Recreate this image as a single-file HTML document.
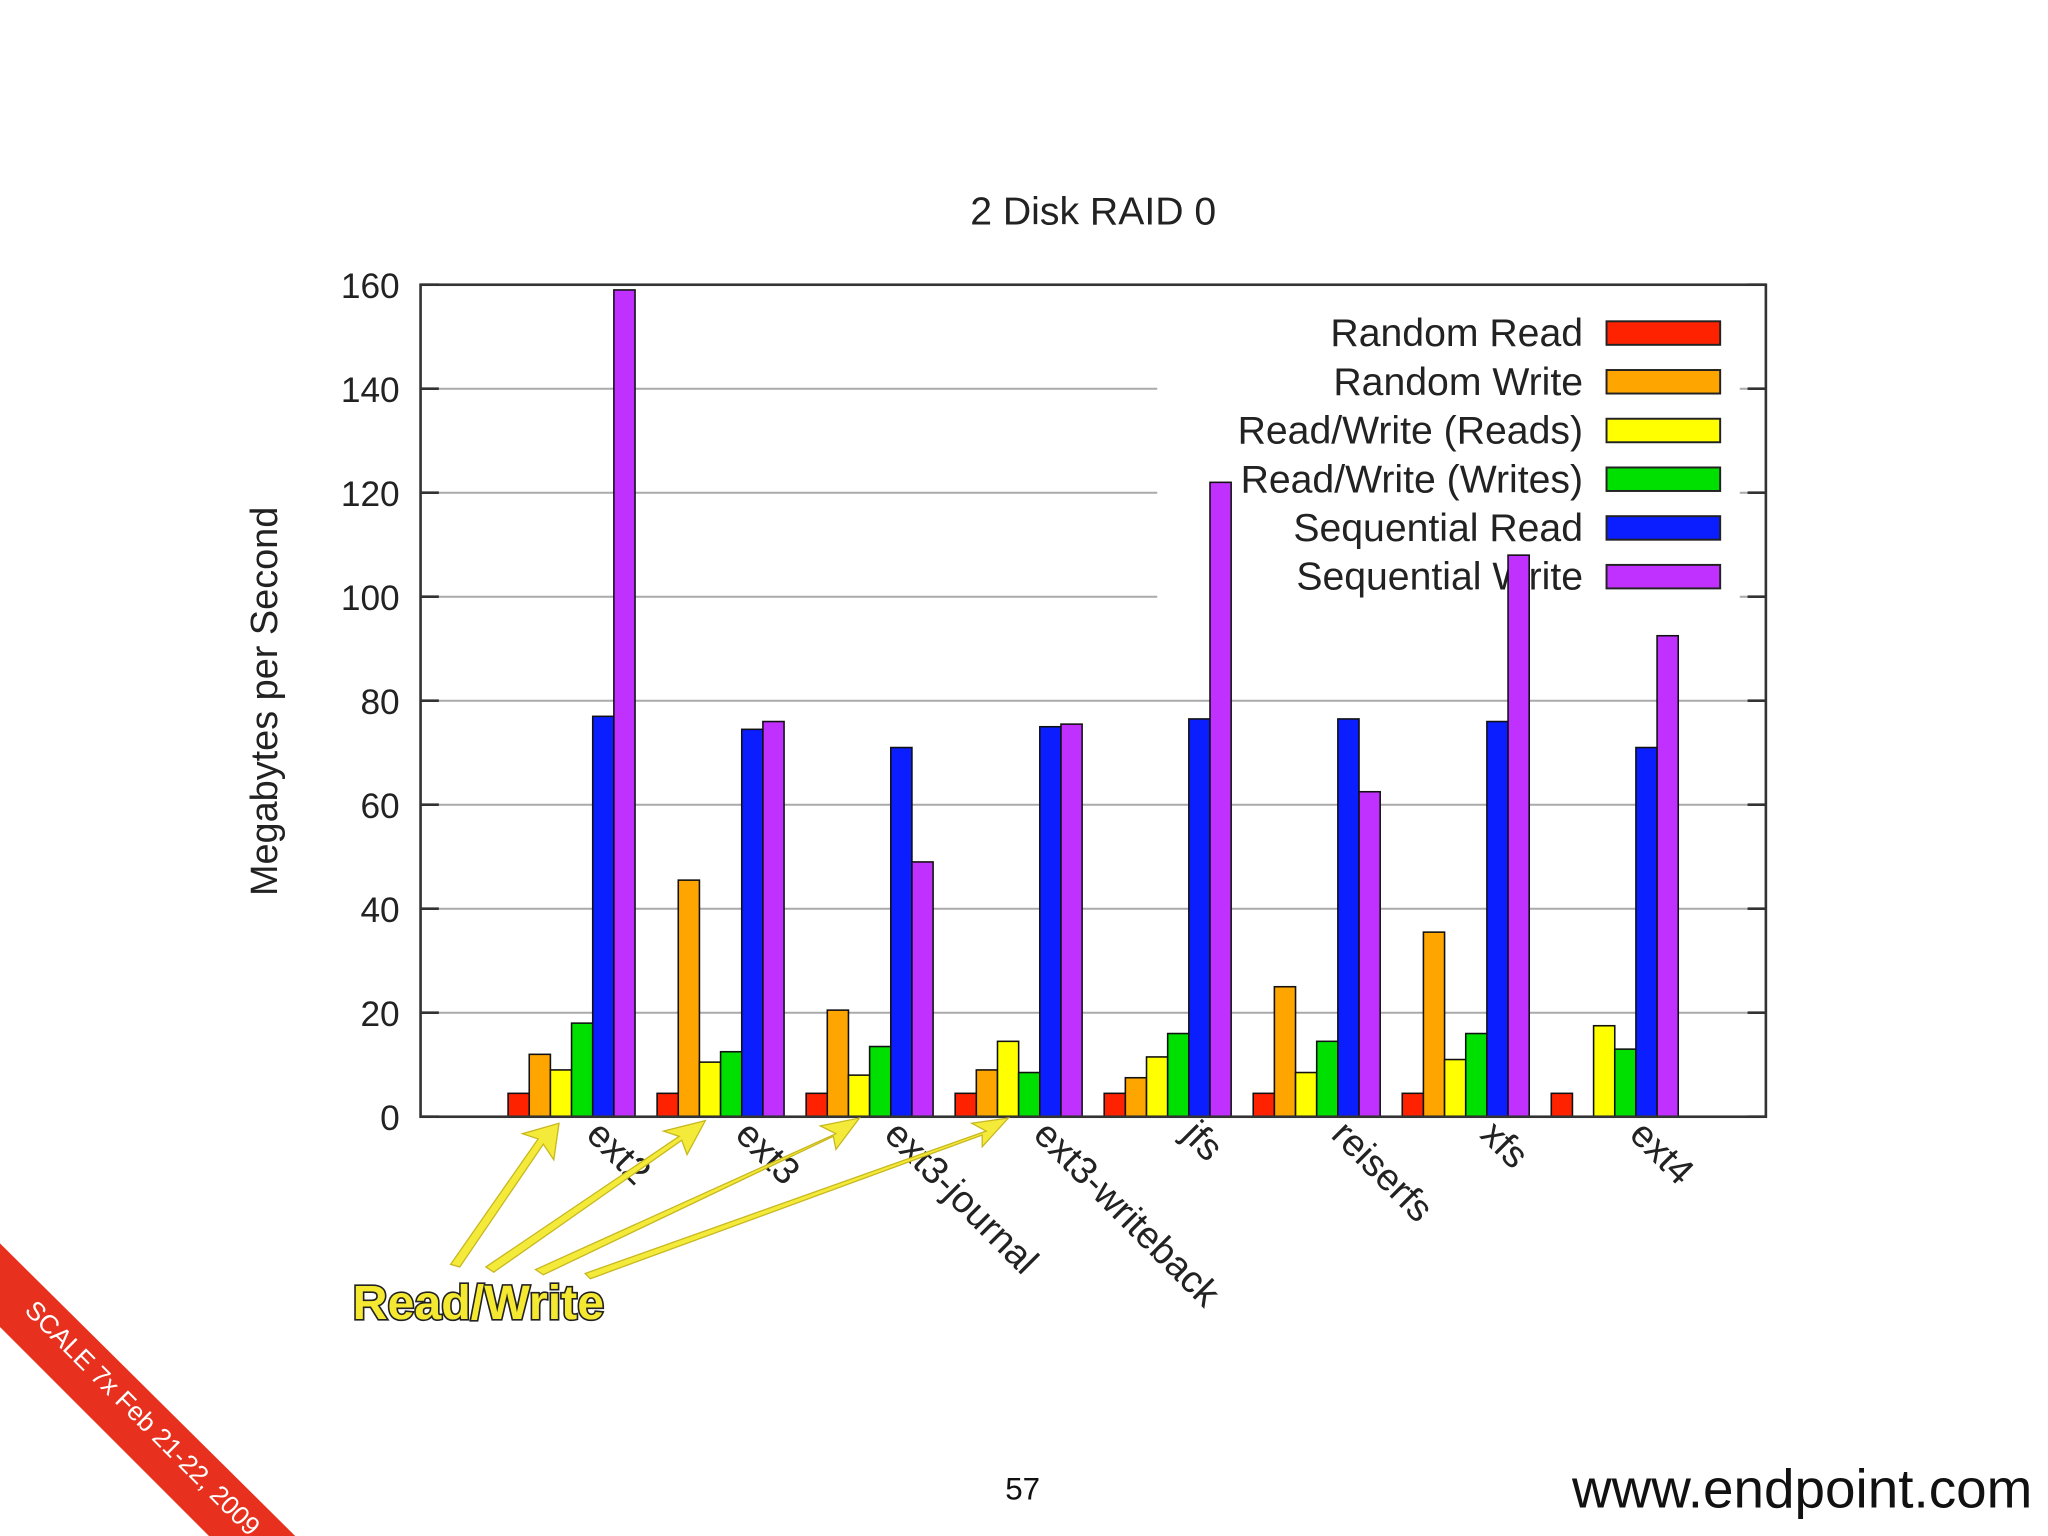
<!DOCTYPE html>
<html><head><meta charset="utf-8"><style>html,body{margin:0;padding:0;background:#fff}svg{display:block}text{font-family:"Liberation Sans",sans-serif}</style></head>
<body>
<svg width="2048" height="1536" viewBox="0 0 1568 1176" xmlns="http://www.w3.org/2000/svg">
<rect width="1568" height="1176" fill="#fff"/>
<text x="837" y="172" font-size="30" text-anchor="middle" fill="#222">2 Disk RAID 0</text>
<text transform="translate(212,537) rotate(-90)" font-size="29" text-anchor="middle" fill="#222">Megabytes per Second</text>
<g id="grid"></g>
<rect x="886" y="236" width="446" height="228" fill="#fff"/>
<g id="legend"></g>
<g id="bars"></g>
<rect x="322" y="218" width="1030" height="637" fill="none" stroke="#333" stroke-width="2"/>
<g id="ticks"></g>
<g id="xlabels"></g>
<g fill="#f4ea3a" stroke="#c8b820" stroke-width="1">
<polygon points="345,968 412,872 400,868 428,860 424,888 416,876 352,970"/>
<polygon points="372,970 520,870 508,866 540,858 526,884 522,873 378,974"/>
<polygon points="410,972 640,868 628,862 658,856 640,880 638,870 416,976"/>
<polygon points="448,975 755,866 744,860 772,856 752,878 752,869 452,979"/>
</g>
<text x="270" y="1010" font-size="37" font-weight="bold" fill="#f4e830" stroke="#222" stroke-width="2.5" paint-order="stroke">Read/Write</text>
<polygon points="0,952 226,1176 160,1176 0,1016" fill="#e8301e"/>
<text transform="translate(18,1004) rotate(45)" font-size="20" fill="#fff">SCALE 7x Feb 21-22, 2009</text>
<text x="783" y="1148" font-size="24" text-anchor="middle" fill="#111">57</text>
<text x="1556" y="1154" font-size="42" text-anchor="end" fill="#111">www.endpoint.com</text>
</svg>
<script>
const categories=["ext2","ext3","ext3-journal","ext3-writeback","jfs","reiserfs","xfs","ext4"];
const seriesNames=["Random Read","Random Write","Read/Write (Reads)","Read/Write (Writes)","Sequential Read","Sequential Write"];
const randomRead=[4.5,4.5,4.5,4.5,4.5,4.5,4.5,4.5];
const randomWrite=[12,45.5,20.5,9,7.5,25,35.5,0];
const rwReads=[9,10.5,8,14.5,11.5,8.5,11,17.5];
const rwWrites=[18,12.5,13.5,8.5,16,14.5,16,13];
const seqRead=[77,74.5,71,75,76.5,76.5,76,71];
const seqWrite=[159,76,49,75.5,122,62.5,108,92.5];
const yTicks=[0,20,40,60,80,100,120,140,160];
const colors=["#ff2200","#ffa500","#ffff00","#00e000","#0a1eff","#c030ff"];
const series=[randomRead,randomWrite,rwReads,rwWrites,seqRead,seqWrite];
const NS="http://www.w3.org/2000/svg";
const y0=855,y1=218,vmax=160;
const yS=v=>y0-(v/vmax)*(y0-y1);
const gx0=389,gStep=114.1,bw=16.2;
const xS=(g,s)=>gx0+g*gStep+s*bw;
function mk(t,a,p){const e=document.createElementNS(NS,t);for(const k in a)e.setAttribute(k,a[k]);p.appendChild(e);return e;}
const grid=document.getElementById('grid'),ticks=document.getElementById('ticks');
yTicks.forEach(v=>{
 if(v>0&&v<vmax){const l=mk('line',{x1:322,x2:1352,y1:yS(v),y2:yS(v),stroke:'#aaa','stroke-width':1.5},grid);
 
 }
 const t1=mk('line',{x1:322,x2:336,y1:yS(v),y2:yS(v),stroke:'#333','stroke-width':2},ticks);
 
 
 const t2=mk('line',{x1:1338,x2:1352,y1:yS(v),y2:yS(v),stroke:'#333','stroke-width':2},ticks);
 
 
 const tx=mk('text',{x:306,y:yS(v)+10,'font-size':27,'text-anchor':'end',fill:'#222'},ticks);
 
 
 tx.textContent=v;
});
const lg=document.getElementById('legend');
seriesNames.forEach((n,i)=>{
 const yy=255+i*37.3;
 const t=mk('text',{x:1212,y:yy+10,'font-size':30,'text-anchor':'end',fill:'#222'},lg);
 
 
 t.textContent=n;
 const r=mk('rect',{x:1230,y:yy-9,width:87,height:18,fill:colors[i],stroke:'#222','stroke-width':1.5},lg);
 
 
});
const bars=document.getElementById('bars');
categories.forEach((c,g)=>{
 series.forEach((arr,s)=>{
  const v=arr[g];if(v<=0)return;
  const r=mk('rect',{x:xS(g,s),y:yS(v),width:bw,height:y0-yS(v),fill:colors[s],stroke:'#111','stroke-width':1.2},bars);
  
  
 });
});
const xl=document.getElementById('xlabels');
categories.forEach((c,g)=>{
 const cx=xS(g,3)+4;
 const t=mk('text',{transform:'translate('+(cx+6)+',870) rotate(45)','font-size':29,fill:'#222'},xl);
 
 
 t.textContent=c;
});
</script>
</body></html>
